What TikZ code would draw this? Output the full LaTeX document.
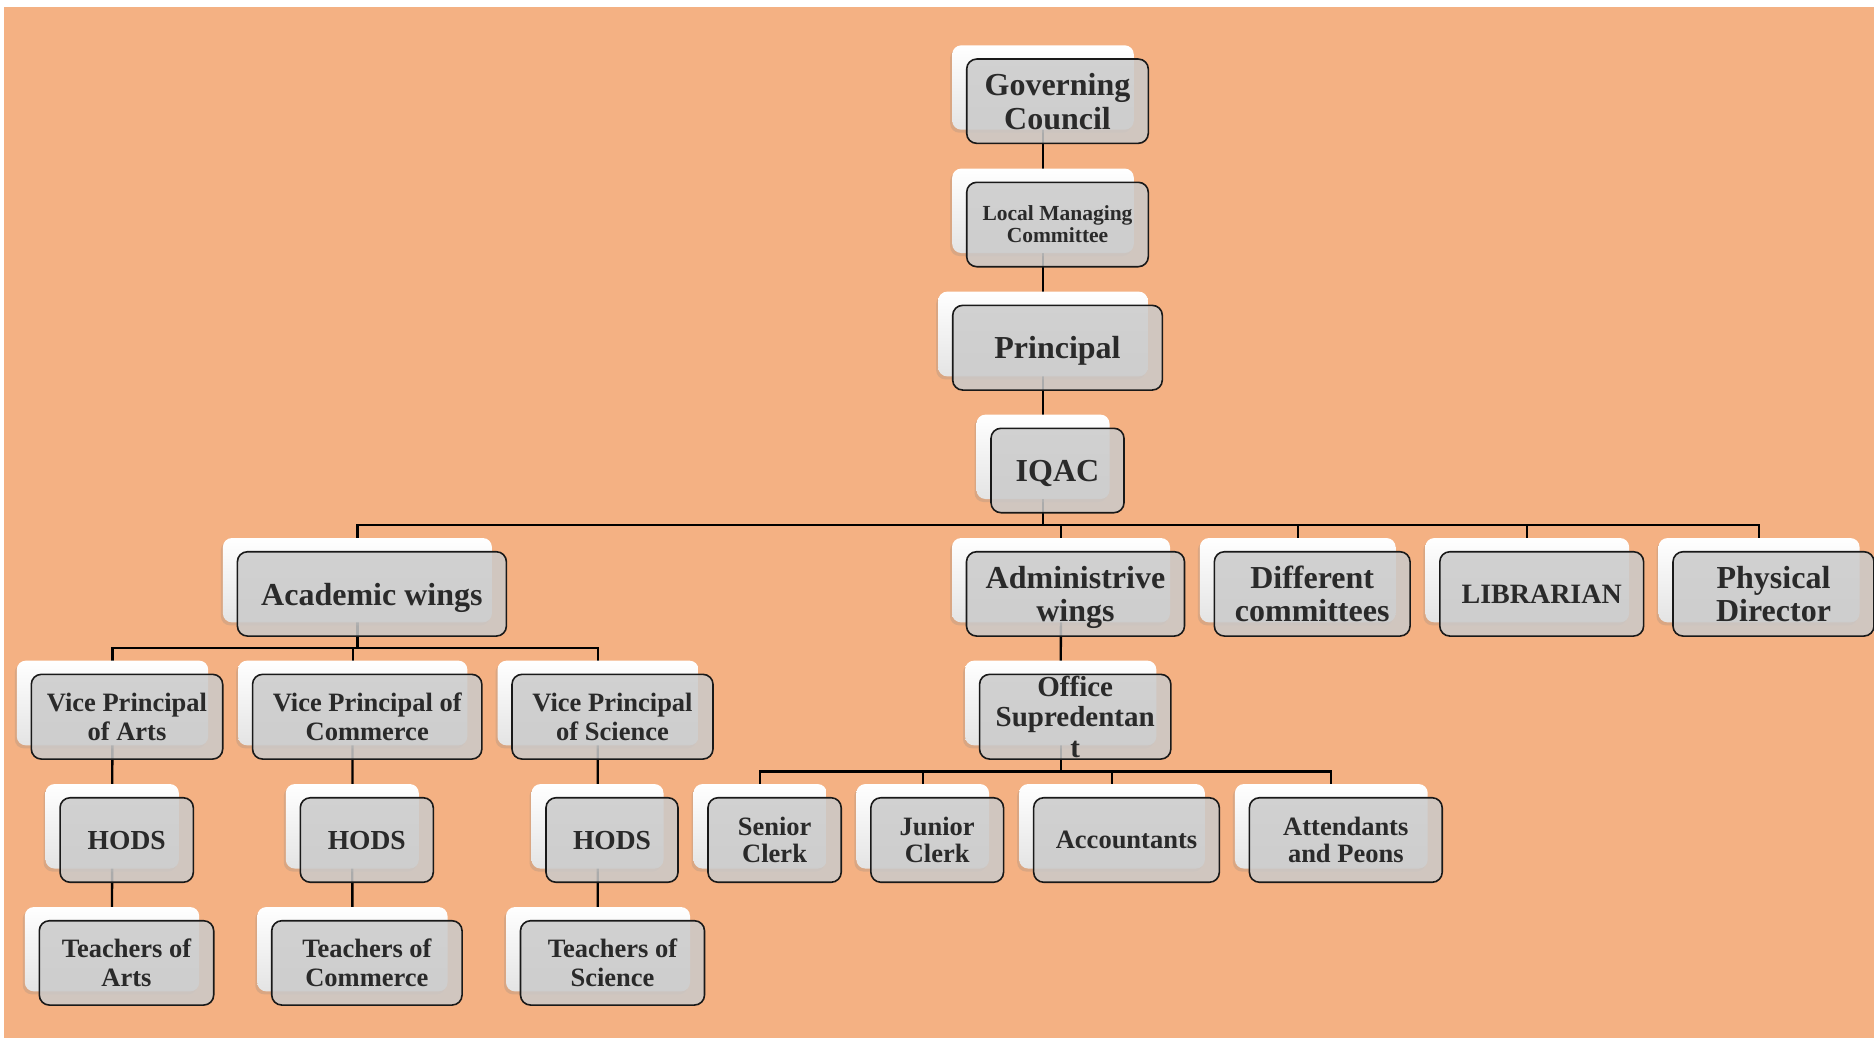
\documentclass[tikz,border=0pt]{standalone}
\usepackage{fontspec}
\setmainfont{Liberation Serif}
\usetikzlibrary{shadows}
\pgfdeclarelayer{bottom}
\pgfdeclarelayer{lines}
\pgfsetlayers{bottom,lines,main}
\definecolor{bgor}{RGB}{244,177,131}
\definecolor{boxgray}{RGB}{202,202,202}
\definecolor{wbot}{RGB}{228,228,228}
\definecolor{txt}{RGB}{42,42,42}
\definecolor{edge}{RGB}{25,25,25}
\newcommand\fBig{\fontsize{32}{33.5}\selectfont}
\newcommand\fLMC{\fontsize{21.5}{22}\selectfont}
\newcommand\fMid{\fontsize{26.5}{28.7}\selectfont}
\newcommand\fClk{\fontsize{26.5}{27}\selectfont}
\newcommand\fLib{\fontsize{28}{30}\selectfont}
\newcommand\fOff{\fontsize{29}{30.5}\selectfont}
\newcommand\fHod{\fontsize{27.5}{29}\selectfont}
\tikzset{
  wbox/.style={rounded corners=9pt, top color=white, bottom color=wbot, draw=none,
    inner sep=0pt, drop shadow={shadow xshift=-2pt, shadow yshift=-3pt, opacity=0.22}},
  gbox/.style={rounded corners=10pt, fill=boxgray, fill opacity=0.85, text opacity=1,
    draw=edge, line width=1.6pt, inner sep=0pt, align=center, text=txt, text depth=0pt},
  conn/.style={line width=2.3pt, draw=black},
}
% name, cx, cy, w, h, font, text
\newcommand\orgbox[7]{%
  \node[wbox, minimum width=#4pt, minimum height=#5pt] (#1w) at (#2-14.5,#3-13.7) {};
  \node[gbox, minimum width=#4pt, minimum height=#5pt, font={#6\bfseries}] (#1) at (#2,#3) {#7};
}
\begin{document}
\begin{tikzpicture}[x=1pt,y=-1pt]
\useasboundingbox (0,0) rectangle (1874,1038);
\begin{pgfonlayer}{bottom}
  \fill[white] (0,0) rectangle (1874,1038);
  \fill[bgor] (4,7) rectangle (1874,1038);
\end{pgfonlayer}

\orgbox{gc}{1057.5}{101.2}{181.6}{84.3}{\fBig}{Governing\\Council}
\orgbox{lmc}{1057.5}{224.5}{181.6}{84.4}{\fLMC}{Local Managing\\Committee}
\orgbox{pr}{1057.5}{347.7}{209.6}{84.7}{\fBig}{Principal}
\orgbox{iq}{1057.5}{470.5}{133}{84.4}{\fBig}{IQAC}

\orgbox{ac}{371.9}{593.9}{269}{84.3}{\fBig}{Academic wings}
\orgbox{ad}{1075.5}{593.9}{218}{84.3}{\fBig}{Administrive\\wings}
\orgbox{dc}{1312.2}{593.9}{195.7}{84.3}{\fBig}{Different\\committees}
\orgbox{lb}{1541.7}{593.9}{203.8}{84.3}{\fLib}{LIBRARIAN}
\orgbox{pd}{1773.5}{593.9}{201}{84.3}{\fBig}{Physical\\Director}

\orgbox{vpa}{127}{716.7}{191.4}{84.7}{\fMid}{Vice Principal\\of Arts}
\orgbox{vpc}{367.2}{716.7}{229.3}{84.7}{\fMid}{Vice Principal of\\Commerce}
\orgbox{vps}{612.5}{716.7}{201}{84.7}{\fMid}{Vice Principal\\of Science}
\orgbox{of}{1075.2}{716.7}{191.3}{84.7}{\fOff}{Office\\Supredentan\\t}

\orgbox{hda}{126.7}{840}{133.3}{84.5}{\fHod}{HODS}
\orgbox{hdc}{366.8}{840}{133}{84.5}{\fHod}{HODS}
\orgbox{hds}{612}{840}{132}{84.5}{\fHod}{HODS}
\orgbox{sc}{774.6}{840}{133.2}{84.5}{\fClk}{Senior\\Clerk}
\orgbox{jc}{937.2}{840}{132.7}{84.5}{\fClk}{Junior\\Clerk}
\orgbox{acc}{1126.5}{840}{185.7}{84.5}{\fClk}{Accountants}
\orgbox{att}{1345.8}{840}{192.8}{84.5}{\fClk}{Attendants\\and Peons}

\orgbox{ta}{126.5}{962.9}{174.4}{84.3}{\fMid}{Teachers of\\Arts}
\orgbox{tc}{366.9}{962.9}{190.3}{84.3}{\fMid}{Teachers of\\Commerce}
\orgbox{ts}{612.5}{962.9}{184}{84.3}{\fMid}{Teachers of\\Science}

\coordinate (b1) at (0,525);
\coordinate (b2) at (0,647.7);
\coordinate (b3) at (0,771.5);

\begin{pgfonlayer}{lines}
  \draw[conn] (gcw.center) -- (lmcw.center);
  \draw[conn] (lmcw.center) -- (prw.center);
  \draw[conn] (prw.center) -- (iqw.center);
  \draw[conn] (iqw.center) -- (iqw.center |- b1) -| (acw.center);
  \draw[conn] (iqw.center) -- (iqw.center |- b1) -| (adw.center);
  \draw[conn] (iqw.center) -- (iqw.center |- b1) -| (dcw.center);
  \draw[conn] (iqw.center) -- (iqw.center |- b1) -| (lbw.center);
  \draw[conn] (iqw.center) -- (iqw.center |- b1) -| (pdw.center);
  \draw[conn] (acw.center) -- (acw.center |- b2) -| (vpaw.center);
  \draw[conn] (acw.center) -- (acw.center |- b2) -| (vpcw.center);
  \draw[conn] (acw.center) -- (acw.center |- b2) -| (vpsw.center);
  \draw[conn] (vpaw.center) -- (hdaw.center);
  \draw[conn] (vpcw.center) -- (hdcw.center);
  \draw[conn] (vpsw.center) -- (hdsw.center);
  \draw[conn] (hdaw.center) -- (taw.center);
  \draw[conn] (hdcw.center) -- (tcw.center);
  \draw[conn] (hdsw.center) -- (tsw.center);
  \draw[conn] (adw.center) -- (ofw.center);
  \draw[conn] (ofw.center) -- (ofw.center |- b3) -| (scw.center);
  \draw[conn] (ofw.center) -- (ofw.center |- b3) -| (jcw.center);
  \draw[conn] (ofw.center) -- (ofw.center |- b3) -| (accw.center);
  \draw[conn] (ofw.center) -- (ofw.center |- b3) -| (attw.center);
\end{pgfonlayer}
\end{tikzpicture}
\end{document}
